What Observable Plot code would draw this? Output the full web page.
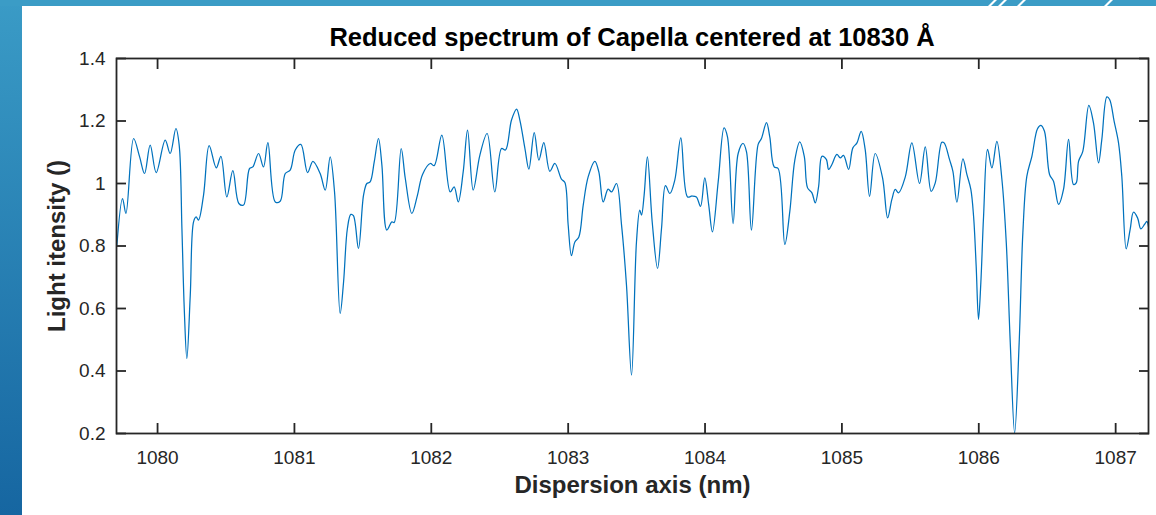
<!DOCTYPE html>
<html>
<head>
<meta charset="utf-8">
<script src="https://cdn.jsdelivr.net/npm/d3@7"></script>
<script src="https://cdn.jsdelivr.net/npm/@observablehq/plot@0.6"></script>
<style>
  html, body { margin: 0; padding: 0; background: #ffffff; }
  #page { position: relative; width: 1156px; height: 515px; overflow: hidden; background: #ffffff; font-family: "Liberation Sans", Arial, sans-serif; }
  #leftbar { position: absolute; left: 0; top: 0; width: 22px; height: 515px; background: linear-gradient(#3a9bc6, #1666a1); }
  #topbar { position: absolute; left: 0; top: 0; width: 1156px; height: 6px; background: #3b9cc6; overflow: hidden; }
  .slash { position: absolute; top: -2px; width: 3px; height: 10px; background: #ffffff; transform: skewX(-45deg); }
  #title { position: absolute; left: 116px; width: 1032px; top: 26px; text-align: center; font-weight: bold; font-size: 25.5px; line-height: 22px; color: #000; }
  #chart { position: absolute; left: 0; top: 46px; }
</style>
</head>
<body>
<div id="page">
  <div id="leftbar"></div>
  <div id="topbar">
    <div class="slash" style="left:991px"></div>
    <div class="slash" style="left:1001px"></div>
    <div class="slash" style="left:1020px"></div>
    <div class="slash" style="left:1107px"></div>
  </div>
  <div id="title">Reduced spectrum of Capella centered at 10830 Å</div>
  <div id="chart"></div>
</div>
<script>
const titleText = "Reduced spectrum of Capella centered at 10830 Å";
const xLabel = "Dispersion axis (nm)";
const yLabel = "Light itensity ()";
const xTicks = [1080, 1081, 1082, 1083, 1084, 1085, 1086, 1087];
const yTicks = [0.2, 0.4, 0.6, 0.8, 1, 1.2, 1.4];
const xDomain = [1079.7, 1087.24];
const yDomain = [0.2, 1.4];

const wavelengthNm = [
  1079.703, 1079.744, 1079.769, 1079.825, 1079.869, 1079.905, 1079.946, 1079.990, 1080.056, 1080.092,
  1080.134, 1080.158, 1080.178, 1080.195, 1080.214, 1080.239, 1080.263, 1080.282, 1080.299, 1080.336,
  1080.377, 1080.429, 1080.463, 1080.506, 1080.550, 1080.594, 1080.628, 1080.672, 1080.696, 1080.738,
  1080.774, 1080.806, 1080.860, 1080.896, 1080.933, 1080.969, 1081.006, 1081.047, 1081.096, 1081.135,
  1081.188, 1081.225, 1081.261, 1081.293, 1081.334, 1081.359, 1081.387, 1081.412, 1081.431, 1081.468,
  1081.505, 1081.529, 1081.553, 1081.583, 1081.614, 1081.639, 1081.675, 1081.712, 1081.729, 1081.780,
  1081.810, 1081.858, 1081.899, 1081.936, 1081.992, 1082.021, 1082.077, 1082.138, 1082.167, 1082.197,
  1082.233, 1082.265, 1082.306, 1082.355, 1082.408, 1082.464, 1082.513, 1082.542, 1082.586, 1082.623,
  1082.647, 1082.684, 1082.713, 1082.752, 1082.786, 1082.822, 1082.866, 1082.903, 1082.951, 1082.976,
  1083.000, 1083.024, 1083.049, 1083.078, 1083.110, 1083.146, 1083.195, 1083.224, 1083.256, 1083.292,
  1083.317, 1083.353, 1083.390, 1083.426, 1083.463, 1083.499, 1083.523, 1083.536, 1083.555, 1083.579,
  1083.614, 1083.653, 1083.682, 1083.711, 1083.743, 1083.779, 1083.823, 1083.872, 1083.906, 1083.937,
  1083.967, 1083.998, 1084.027, 1084.054, 1084.096, 1084.139, 1084.164, 1084.205, 1084.242, 1084.278,
  1084.303, 1084.339, 1084.388, 1084.412, 1084.449, 1084.473, 1084.505, 1084.534, 1084.583, 1084.619,
  1084.656, 1084.692, 1084.725, 1084.749, 1084.781, 1084.805, 1084.830, 1084.854, 1084.886, 1084.903,
  1084.927, 1084.963, 1084.988, 1085.012, 1085.049, 1085.080, 1085.110, 1085.141, 1085.170, 1085.202,
  1085.243, 1085.297, 1085.334, 1085.365, 1085.390, 1085.414, 1085.463, 1085.511, 1085.567, 1085.609,
  1085.652, 1085.682, 1085.730, 1085.747, 1085.786, 1085.811, 1085.840, 1085.884, 1085.913, 1085.942,
  1085.962, 1085.981, 1085.998, 1086.015, 1086.035, 1086.064, 1086.096, 1086.132, 1086.169, 1086.201,
  1086.230, 1086.262, 1086.295, 1086.322, 1086.351, 1086.388, 1086.429, 1086.454, 1086.480, 1086.517,
  1086.546, 1086.583, 1086.619, 1086.656, 1086.692, 1086.712, 1086.729, 1086.760, 1086.804, 1086.838,
  1086.875, 1086.899, 1086.936, 1086.956, 1086.989, 1087.021, 1087.045, 1087.077, 1087.106, 1087.130,
  1087.160, 1087.184, 1087.211, 1087.228, 1087.243
];
const intensity = [
  0.803, 0.952, 0.904, 1.144, 1.085, 1.032, 1.123, 1.035, 1.139, 1.096,
  1.176, 1.123, 0.856, 0.600, 0.440, 0.643, 0.877, 0.893, 0.883, 0.963,
  1.121, 1.050, 1.087, 0.957, 1.041, 0.936, 0.931, 1.048, 1.053, 1.096,
  1.053, 1.131, 0.941, 0.943, 1.032, 1.043, 1.107, 1.125, 1.035, 1.071,
  1.032, 0.979, 1.085, 0.973, 0.584, 0.685, 0.856, 0.901, 0.897, 0.792,
  0.963, 1.000, 1.005, 1.069, 1.144, 1.059, 0.851, 0.877, 0.875, 1.112,
  1.016, 0.904, 0.963, 1.029, 1.064, 1.057, 1.155, 0.973, 0.989, 0.941,
  1.037, 1.171, 0.979, 1.091, 1.160, 0.973, 1.112, 1.107, 1.203, 1.238,
  1.203, 1.112, 1.046, 1.163, 1.075, 1.131, 1.039, 1.064, 1.014, 1.003,
  0.867, 0.769, 0.813, 0.829, 0.931, 1.021, 1.071, 1.037, 0.941, 0.982,
  0.973, 1.000, 0.867, 0.675, 0.387, 0.813, 0.915, 0.899, 0.963, 1.085,
  0.877, 0.728, 0.856, 0.993, 0.968, 1.011, 1.146, 0.957, 0.960, 0.957,
  0.927, 1.018, 0.931, 0.845, 1.005, 1.178, 1.149, 0.872, 1.096, 1.128,
  1.101, 0.851, 1.125, 1.144, 1.195, 1.149, 1.053, 1.048, 0.805, 0.909,
  1.075, 1.133, 1.087, 0.986, 0.970, 0.938, 0.991, 1.087, 1.077, 1.045,
  1.061, 1.093, 1.082, 1.090, 1.045, 1.114, 1.130, 1.167, 1.109, 0.959,
  1.096, 1.018, 0.890, 0.949, 0.981, 0.970, 1.021, 1.130, 1.000, 1.117,
  0.975, 1.002, 1.132, 1.130, 1.077, 1.039, 0.940, 1.079, 1.029, 0.981,
  0.895, 0.735, 0.565, 0.682, 0.895, 1.109, 1.050, 1.135, 1.013, 0.810,
  0.490, 0.202, 0.490, 0.842, 1.023, 1.087, 1.175, 1.186, 1.167, 1.029,
  1.007, 0.933, 0.981, 1.141, 0.997, 1.002, 1.071, 1.103, 1.250, 1.194,
  1.066, 1.141, 1.277, 1.269, 1.199, 1.130, 1.023, 0.791, 0.853, 0.908,
  0.890, 0.855, 0.869, 0.879, 0.853
];

const spectrum = wavelengthNm.map((x, i) => ({x, y: intensity[i]}));
const axisColor = "#262626";
const fmt = d => d3.format("~g")(d);

const chart = Plot.plot({
  width: 1156,
  height: 469,
  marginTop: 12,
  marginBottom: 82,
  marginLeft: 116,
  marginRight: 8,
  style: {fontFamily: "'Liberation Sans', Arial, sans-serif", background: "transparent", color: axisColor},
  x: {domain: xDomain},
  y: {domain: yDomain},
  marks: [
    Plot.line(spectrum, {x: "x", y: "y", stroke: "#0072BD", strokeWidth: 1.25, curve: "catmull-rom", clip: true}),
    Plot.frame({stroke: axisColor, strokeWidth: 1.8}),
    Plot.axisX(xTicks, {anchor: "bottom", tickSize: 0, tickPadding: 17, tickFormat: fmt, fontSize: 19, label: null, fill: axisColor}),
    Plot.axisX(xTicks, {anchor: "bottom", tickSize: 10, text: null, label: null, dy: -10, stroke: axisColor, strokeWidth: 1.8}),
    Plot.axisX(xTicks, {anchor: "top", tickSize: 10, text: null, label: null, dy: 10, stroke: axisColor, strokeWidth: 1.8}),
    Plot.axisY(yTicks, {anchor: "left", tickSize: 0, tickPadding: 11, tickFormat: fmt, fontSize: 19, label: null, fill: axisColor}),
    Plot.axisY(yTicks, {anchor: "left", tickSize: 10, text: null, label: null, dx: 10, stroke: axisColor, strokeWidth: 1.8}),
    Plot.axisY(yTicks, {anchor: "right", tickSize: 10, text: null, label: null, dx: -10, stroke: axisColor, strokeWidth: 1.8}),
    Plot.text([xLabel], {frameAnchor: "bottom", dy: 59, text: d => d, fontSize: 24, fontWeight: "bold", fill: axisColor}),
    Plot.text([yLabel], {frameAnchor: "left", dx: -59, rotate: -90, textAnchor: "middle", text: d => d, fontSize: 24, fontWeight: "bold", fill: axisColor})
  ]
});
document.getElementById("chart").appendChild(chart);
document.getElementById("title").textContent = titleText;
</script>
</body>
</html>
